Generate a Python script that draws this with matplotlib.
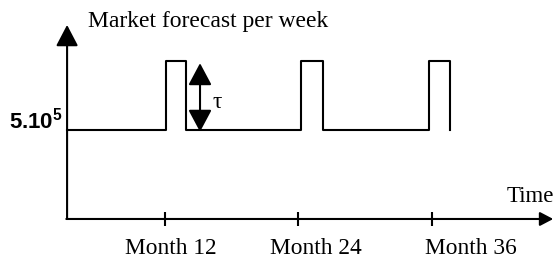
import matplotlib.pyplot as plt
import numpy as np

plt.rcParams['mathtext.fontset'] = 'custom'
plt.rcParams['mathtext.bf'] = 'Liberation Sans:bold'
plt.rcParams['mathtext.rm'] = 'Liberation Sans'

# weekly market forecast (units of 1e5), step changes at these months
times = [3.2, 12.1, 13.9, 24.2, 26.2, 35.7, 37.6]
forecast = [5, 8.9, 5, 8.9, 5, 8.9, 5]

# month ticks on the time axis, and where their labels sit
tick_months = [12, 24, 36]
tick_labels = ['Month 12', 'Month 24', 'Month 36']
label_x = [12.55, 25.6, 39.5]

origin = 3.2      # where the vertical axis crosses
y_top = 10.9      # tip of the vertical arrow
x_end = 46.9      # tip of the time arrow
tau_x = 15.15     # tau marker position
tau_lo, tau_hi = 4.9, 8.75

serif = 'Liberation Serif'

fig = plt.figure(figsize=(5.56, 2.61), dpi=100)
ax = fig.add_axes([0, 0, 1, 1])
ax.set_xlim(-2.83, 47.15)
ax.set_ylim(-2.36, 12.3)
ax.axis('off')

# the forecast curve
ax.plot(times, forecast, drawstyle='steps-post', color='k', lw=1.5)

# axes with arrow heads
ax.annotate('', xy=(origin, y_top), xytext=(origin, 0),
            arrowprops=dict(arrowstyle='-|>,head_length=1.3,head_width=0.68',
                            color='k', lw=1.5, shrinkA=0, shrinkB=0,
                            mutation_scale=10))
ax.annotate('', xy=(x_end, 0), xytext=(origin - 0.07, 0),
            arrowprops=dict(arrowstyle='-|>,head_length=0.8,head_width=0.42',
                            color='k', lw=1.5, shrinkA=0, shrinkB=0,
                            mutation_scale=10))

# tick marks
ax.plot(tick_months, np.zeros(len(tick_months)), ls='none', marker='|',
        ms=9.5, mew=1.5, color='k')
for x, lab in zip(label_x, tick_labels):
    ax.text(x, -1.65, lab, ha='center', va='center', fontsize=16.8, family=serif)

# tau double arrow
ax.annotate('', xy=(tau_x, tau_hi), xytext=(tau_x, tau_lo),
            arrowprops=dict(arrowstyle='<|-|>,head_length=1.35,head_width=0.72',
                            color='k', lw=1.5, shrinkA=0, shrinkB=0,
                            mutation_scale=10))
ax.text(16.25, 6.55, 'τ', ha='left', va='center', fontsize=17, family=serif)

# labels
ax.text(5.08, 10.8, 'Market forecast per week', ha='left', va='baseline',
        fontsize=17, family=serif)
ax.text(42.75, 1.25, 'Time', ha='left', va='center', fontsize=16.5, family=serif)
ax.text(2.85, 5.1, r'$\mathbf{5.10^5}$', ha='right', va='baseline', fontsize=16)

fig.savefig('out.png', dpi=100)
